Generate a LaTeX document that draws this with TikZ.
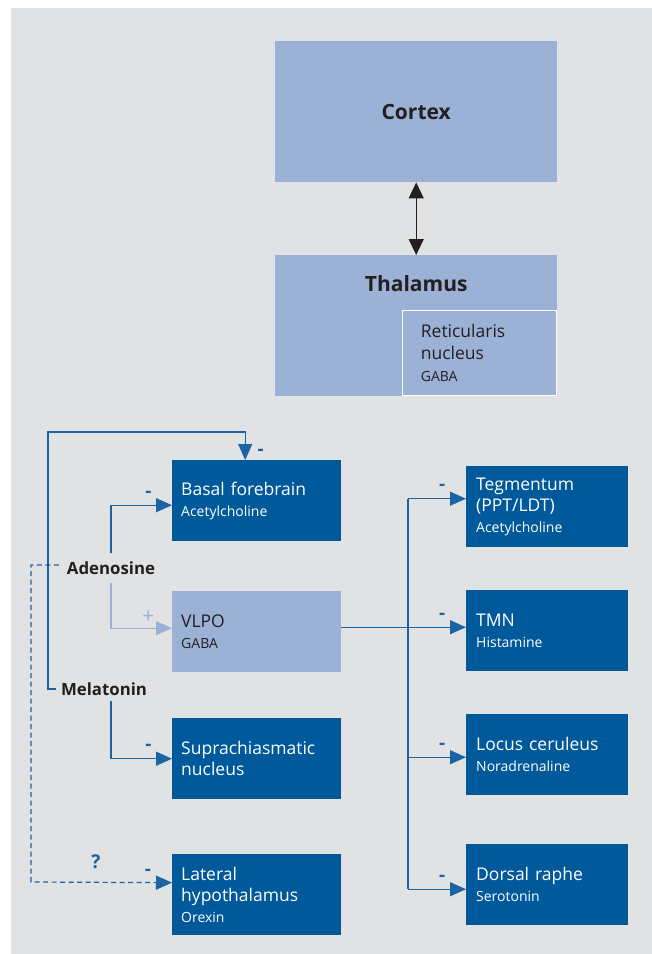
\documentclass[tikz,border=0pt]{standalone}
\usepackage{fontspec}
\setmainfont{Open Sans}
\usetikzlibrary{arrows.meta,positioning}

\definecolor{bggray}{RGB}{225,226,228}
\definecolor{darkblue}{RGB}{0,89,155}
\definecolor{lightblue}{RGB}{155,177,214}
\definecolor{linkblue}{RGB}{28,99,163}
\definecolor{darktext}{RGB}{35,31,32}

\newcommand{\subtxt}[1]{{\fontsize{14}{17}\selectfont #1}}

\begin{document}
\begin{tikzpicture}[x=1pt, y=-1pt,
		cellbox/.style={anchor=north west, align=left, minimum height=81pt, font=\fontsize{17.5}{21}\selectfont},
		darkbox/.style={cellbox, fill=darkblue, text=white},
		lightbox/.style={cellbox, fill=lightblue, text=darktext},
		leftcol/.style={text width=151pt, inner xsep=9pt},
		rightcol/.style={text width=142pt, inner xsep=10pt},
		areabox/.style={fill=lightblue, text=darktext, anchor=north west, minimum width=282pt, minimum height=141pt, font=\bfseries\fontsize{21}{25}\selectfont},
		tag/.style={font=\bfseries\fontsize{16.8}{20}\selectfont, text=darktext, inner sep=5pt},
		conn/.style={draw=linkblue, line width=1.2pt},
		arrowhd/.style={-{Triangle[length=16pt, width=14pt]}},
		sign/.style={text=linkblue, font=\bfseries\fontsize{19}{19}\selectfont, anchor=base, yshift=8pt, inner sep=0pt}]
		\useasboundingbox (0,0) rectangle (652,954);
		\fill[white] (0,0) rectangle (652,954);
		\fill[bggray] (11,8) rectangle (652,954);

		% cortex and thalamus
		\node[areabox] (cortex) at (275,41) {Cortex};
		\node[areabox] (thal) at (275,255) {};
		\node[font=\bfseries\fontsize{21}{25}\selectfont, text=darktext, anchor=base] (thaltxt) at ([yshift=-36pt]thal.north) {Thalamus};
		\node[fill=lightblue, draw=white, line width=1pt, anchor=south east, minimum height=85pt, text width=118pt, inner xsep=18pt, align=left, text=darktext, font=\fontsize{17.5}{22}\selectfont] (ret) at (thal.south east) {Reticularis\\nucleus\\\subtxt{GABA}};
		\draw[darktext, line width=1.3pt, {Triangle[length=16pt, width=15pt]}-{Triangle[length=16pt, width=15pt]}] (cortex.south) -- (thal.north);

		% left column
		\node[darkbox, leftcol] (bf) at (172,460) {Basal forebrain\\\subtxt{Acetylcholine}};
		\node[lightbox, leftcol] (vlpo) at (172,591) {VLPO\\\subtxt{GABA}};
		\node[darkbox, leftcol] (scn) at (172,718) {Suprachiasmatic\\nucleus};
		\node[darkbox, leftcol] (lh) at (172,854) {Lateral\\hypothalamus\\\subtxt{Orexin}};

		% right column
		\node[darkbox, rightcol] (teg) at (466,466) {Tegmentum\\(PPT/LDT)\\\subtxt{Acetylcholine}};
		\node[darkbox, rightcol] (tmn) at (466,590) {TMN\\\subtxt{Histamine}};
		\node[darkbox, rightcol] (lc) at (466,714) {Locus ceruleus\\\subtxt{Noradrenaline}};
		\node[darkbox, rightcol] (dr) at (466,844) {Dorsal raphe\\\subtxt{Serotonin}};

		% substances
		\node[tag, inner sep=8pt] (adeno) at (111,568) {Adenosine};
		\node[tag] (mel) at (104,689) {Melatonin};

		\coordinate (fb) at (48,432);
		\coordinate (dq) at (31,882);
		\coordinate (bus) at (408,0);

		% connectors on the left
		\draw[conn, arrowhd] (adeno.north) |- node[sign, pos=0.806] {-} ([yshift=-4.5pt]bf.west);
		\draw[conn, draw=lightblue, arrowhd] (adeno.south) |- node[sign, text=lightblue, font=\fontsize{21}{21}\selectfont, yshift=-3pt, pos=0.806] {+} ([yshift=3.5pt]vlpo.west);
		\draw[conn, arrowhd] (mel.south -| adeno.south) |- node[sign, pos=0.806] {-} (scn.west);
		\draw[conn, arrowhd] (mel.west) -| (fb) -| node[sign, pos=1, xshift=15.5pt, yshift=-3pt] {-} ([xshift=-11.5pt]bf.north);
		\draw[conn, dash pattern=on 5pt off 3.5pt, arrowhd] ([yshift=3pt]adeno.west) -| (dq) -- node[sign, pos=0.46, yshift=6pt] {?} node[sign, pos=0.83, yshift=-1pt] {-} ([yshift=12pt]lh.west);

		% connectors on the right
		\draw[conn] ([yshift=8pt]teg.west -| bus) -- ([yshift=-4.5pt]dr.west -| bus);
		\draw[conn] ([yshift=3.5pt]tmn.west -| vlpo.east) -- ([yshift=3.5pt]tmn.west -| bus);
		\foreach \t/\s in {teg/8, tmn/3.5, lc/-2.5, dr/-4.5}
		\draw[conn, arrowhd] ([yshift=\s pt]\t.west -| bus) -- node[sign, pos=0.59] {-} ([yshift=\s pt]\t.west);
\end{tikzpicture}
\end{document}
